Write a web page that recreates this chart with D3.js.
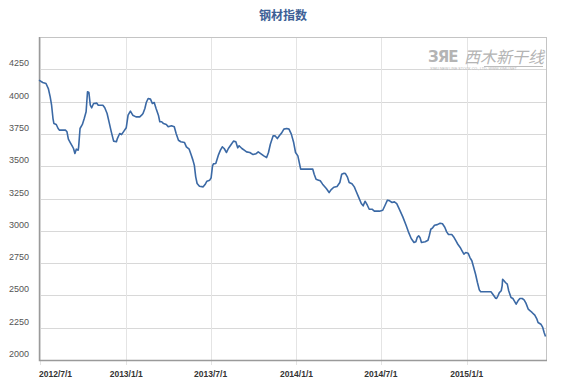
<!DOCTYPE html>
<html><head><meta charset="utf-8">
<script src="https://cdn.jsdelivr.net/npm/d3@7"></script>
<style>
html,body{margin:0;padding:0;background:#fff;}
svg{display:block;font-family:"Liberation Sans",Arial,sans-serif;}
</style></head>
<body><svg id="c" width="566" height="384"></svg>
<script>
const title = "钢材指数";
const yTicks = [2000, 2250, 2500, 2750, 3000, 3250, 3500, 3750, 4000, 4250];
const xTickLabels = ["2012/7/1", "2013/1/1", "2013/7/1", "2014/1/1", "2014/7/1", "2015/1/1"];
const xDomain = ["2012-06-28", "2015-06-20"];
const yDomain = [2000, 4500];

const dates = [
"2012-06-28","2012-07-06","2012-07-13","2012-07-18","2012-07-22","2012-07-25","2012-07-28","2012-07-30","2012-08-04","2012-08-08",
"2012-08-11","2012-08-24","2012-08-27","2012-08-30","2012-09-03","2012-09-07","2012-09-10","2012-09-13","2012-09-16","2012-09-20",
"2012-09-21","2012-09-24","2012-09-29","2012-10-03","2012-10-07","2012-10-10","2012-10-13","2012-10-16","2012-10-19","2012-10-23",
"2012-10-30","2012-11-02","2012-11-12","2012-11-16","2012-11-21","2012-11-26","2012-11-30","2012-12-05","2012-12-11","2012-12-13",
"2012-12-18","2012-12-22","2012-12-26","2013-01-01","2013-01-05","2013-01-10","2013-01-15","2013-01-22","2013-01-30","2013-02-03",
"2013-02-06","2013-02-10","2013-02-13","2013-02-17","2013-02-22","2013-02-26","2013-03-02","2013-03-06","2013-03-11","2013-03-14",
"2013-03-18","2013-03-22","2013-03-28","2013-04-01","2013-04-08","2013-04-14","2013-04-18","2013-04-23","2013-04-28","2013-05-06",
"2013-05-10","2013-05-16","2013-05-20","2013-05-24","2013-05-27","2013-05-30","2013-06-02","2013-06-07","2013-06-15","2013-06-19",
"2013-06-23","2013-06-29","2013-07-02","2013-07-05","2013-07-07","2013-07-12","2013-07-18","2013-07-22","2013-07-26","2013-07-30",
"2013-08-04","2013-08-08","2013-08-14","2013-08-19","2013-08-24","2013-08-28","2013-08-31","2013-09-06","2013-09-11","2013-09-16",
"2013-09-23","2013-09-30","2013-10-06","2013-10-11","2013-10-17","2013-10-23","2013-10-29","2013-11-02","2013-11-06","2013-11-12",
"2013-11-16","2013-11-21","2013-11-26","2013-11-30","2013-12-05","2013-12-11","2013-12-16","2013-12-21","2013-12-26","2013-12-30",
"2014-01-04","2014-01-10","2014-01-17","2014-02-05","2014-02-08","2014-02-12","2014-02-16","2014-02-21","2014-02-26","2014-03-06",
"2014-03-12","2014-03-16","2014-03-22","2014-03-29","2014-04-04","2014-04-08","2014-04-13","2014-04-16","2014-04-20","2014-04-24",
"2014-04-30","2014-05-05","2014-05-08","2014-05-14","2014-05-20","2014-05-24","2014-05-28","2014-06-02","2014-06-06","2014-06-12",
"2014-06-17","2014-06-28","2014-07-05","2014-07-10","2014-07-15","2014-07-19","2014-07-25","2014-07-30","2014-08-04","2014-08-09",
"2014-08-17","2014-08-24","2014-08-29","2014-09-04","2014-09-10","2014-09-14","2014-09-17","2014-09-20","2014-09-23","2014-09-26",
"2014-10-04","2014-10-10","2014-10-13","2014-10-16","2014-10-20","2014-10-24","2014-10-30","2014-11-05","2014-11-10","2014-11-15",
"2014-11-19","2014-11-23","2014-11-26","2014-11-30","2014-12-05","2014-12-09","2014-12-13","2014-12-18","2014-12-22","2014-12-26",
"2014-12-30","2015-01-04","2015-01-08","2015-01-12","2015-01-15","2015-01-20","2015-01-24","2015-01-28","2015-01-31","2015-02-22",
"2015-02-26","2015-03-04","2015-03-06","2015-03-09","2015-03-12","2015-03-16","2015-03-18","2015-03-19","2015-03-22","2015-03-25",
"2015-03-29","2015-04-01","2015-04-06","2015-04-10","2015-04-13","2015-04-17","2015-04-21","2015-04-25","2015-04-30","2015-05-04",
"2015-05-08","2015-05-13","2015-05-17","2015-05-21","2015-05-27","2015-05-31","2015-06-03","2015-06-09","2015-06-13","2015-06-16",
"2015-06-19"
];
const values = [
4166,4148,4140,4101,4037,3972,3869,3830,3823,3792,
3779,3779,3766,3709,3683,3658,3637,3598,3632,3624,
3650,3792,3823,3869,3921,4076,4070,3972,3952,3985,
3988,3972,3972,3952,3908,3830,3766,3694,3689,3714,
3753,3745,3766,3797,3895,3926,3895,3882,3882,3895,
3908,3947,3993,4024,4019,3985,3993,3947,3895,3844,
3844,3830,3823,3805,3813,3805,3753,3701,3689,3683,
3650,3632,3590,3547,3508,3418,3366,3345,3340,3358,
3384,3392,3410,3503,3518,3521,3590,3624,3650,3637,
3606,3637,3668,3694,3689,3642,3658,3637,3624,3611,
3606,3590,3596,3611,3596,3580,3567,3606,3670,3735,
3735,3714,3740,3756,3787,3792,3787,3748,3683,3606,
3580,3477,3477,3477,3438,3399,3394,3387,3361,3327,
3296,3317,3337,3343,3374,3438,3446,3443,3418,3374,
3364,3340,3314,3263,3211,3193,3229,3198,3167,3167,
3152,3152,3159,3198,3237,3234,3219,3224,3211,3172,
3108,3043,2992,2940,2909,2915,2950,2961,2946,2909,
2915,2927,2966,3012,3023,3043,3048,3059,3054,3028,
2992,2971,2971,2971,2948,2922,2896,2871,2845,2819,
2832,2827,2793,2768,2729,2664,2600,2543,2528,2528,
2509,2478,2476,2497,2522,2536,2574,2625,2613,2600,
2587,2536,2484,2476,2458,2432,2458,2476,2476,2466,
2440,2393,2381,2368,2347,2321,2290,2277,2252,2213,
2182
];

const parse = d3.timeParse("%Y-%m-%d");
const parseTick = d3.timeParse("%Y/%m/%d");
const data = dates.map((d, i) => ({date: parse(d), value: values[i]}));

const L = 39, R = 546, T = 37, B = 360;
const svg = d3.select("#c");

const x = d3.scaleTime().domain(xDomain.map(parse)).range([L, R]);
const y = d3.scaleLinear().domain(yDomain).range([B, T]);

// title
svg.append("text").attr("x", 283).attr("y", 20).attr("text-anchor", "middle")
  .attr("font-size", 12).attr("font-weight", "bold").attr("fill", "#3d5f96")
  .attr("font-family", "'Noto Sans CJK SC',sans-serif").text(title);

// horizontal grid
svg.append("g").selectAll("line").data(yTicks.slice(1)).join("line")
  .attr("x1", L).attr("x2", R).attr("y1", d => Math.round(y(d)) + 0.5).attr("y2", d => Math.round(y(d)) + 0.5)
  .attr("stroke", "#d8d8d8").attr("stroke-width", 1);

// vertical grid
const xTickDates = xTickLabels.map(parseTick);
svg.append("g").selectAll("line").data(xTickDates).join("line")
  .attr("x1", d => Math.round(x(d)) + 0.5).attr("x2", d => Math.round(x(d)) + 0.5)
  .attr("y1", T).attr("y2", B + 5)
  .attr("stroke", "#e4e4e4").attr("stroke-width", 1);

// border
svg.append("rect").attr("x", L + 0.5).attr("y", T + 0.5).attr("width", R - L).attr("height", B - T)
  .attr("fill", "none").attr("stroke", "#c4c4c4");
svg.append("path").attr("d", `M${L + 0.5},${T}V${B + 0.5}H${R + 1}`)
  .attr("fill", "none").attr("stroke", "#9a9a9a").attr("stroke-width", 1.5);

// watermark
const wm = svg.append("g").attr("fill", "#b4b4b4");
wm.append("text").attr("x", 428).attr("y", 62).attr("font-size", 15).attr("font-weight", "bold")
  .attr("font-family", "'DejaVu Sans',sans-serif").attr("letter-spacing", -1).text("ЗЯЕ");
wm.append("text").attr("x", 464).attr("y", 63).attr("font-size", 16).attr("font-style", "italic")
  .attr("font-family", "'Noto Sans CJK SC',sans-serif").text("西木新干线");
wm.append("text").attr("x", 430).attr("y", 70).attr("font-size", 3.6)
  .text("XIMU NEW LINE STOCK CO., LTD.     WWW.XIMU.NET");
wm.append("line").attr("x1", 484).attr("x2", 543).attr("y1", 66.5).attr("y2", 66.5).attr("stroke", "#bcbcbc");

// y labels
svg.append("g").selectAll("text").data(yTicks).join("text")
  .attr("x", 29).attr("y", d => y(d) - 3).attr("text-anchor", "end")
  .attr("font-size", 9).attr("fill", "#555").text(d => d);

// x labels
svg.append("g").selectAll("text").data(xTickDates).join("text")
  .attr("x", (d, i) => i === 0 ? L : x(d))
  .attr("y", 377)
  .attr("text-anchor", (d, i) => i === 0 ? "start" : "middle")
  .attr("font-size", 8.5).attr("font-weight", "bold").attr("fill", "#333")
  .text((d, i) => xTickLabels[i]);

// line
const line = d3.line().x(d => x(d.date)).y(d => y(d.value));
svg.append("path").datum(data).attr("d", line)
  .attr("fill", "none").attr("stroke", "#3b69a5").attr("stroke-width", 1.6)
  .attr("stroke-linejoin", "round");
</script>
</body></html>
